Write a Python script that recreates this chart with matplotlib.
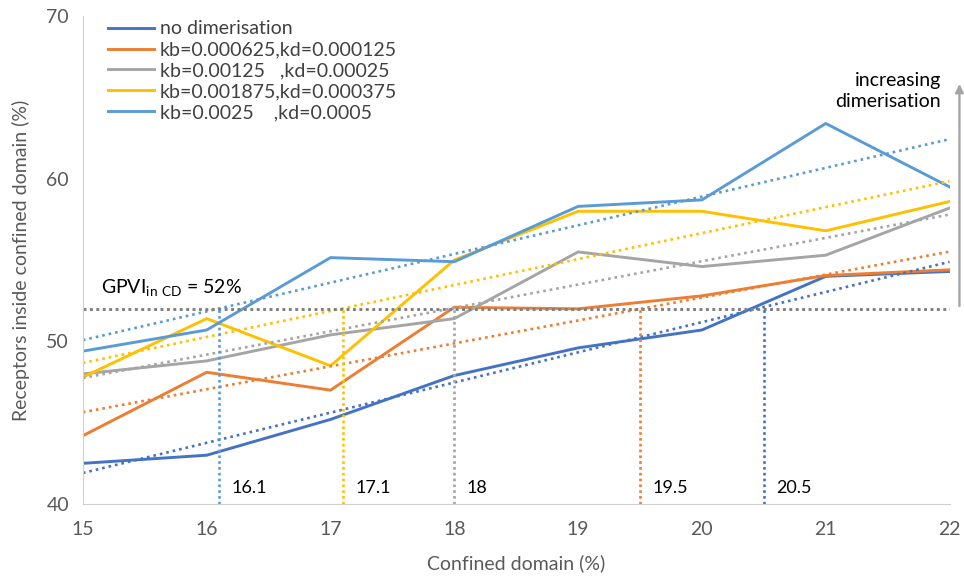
import matplotlib.pyplot as plt
import numpy as np

plt.rcParams["font.family"] = ["Lato", "DejaVu Sans"]
plt.rcParams["mathtext.default"] = "regular"
plt.rcParams["font.size"] = 12

x = np.array([15, 16, 17, 18, 19, 20, 21, 22])

no_dim = [42.5, 43.0, 45.2, 47.9, 49.6, 50.7, 54.0, 54.3]
kb1 = [44.2, 48.1, 47.0, 52.1, 52.0, 52.8, 54.05, 54.4]
kb2 = [48.0, 48.8, 50.4, 51.4, 55.5, 54.6, 55.3, 58.2]
kb3 = [47.8, 51.4, 48.5, 55.0, 58.0, 58.0, 56.8, 58.6]
kb4 = [49.4, 50.7, 55.15, 54.9, 58.3, 58.7, 63.4, 59.5]

labels = ["no dimerisation",
          "kb=0.000625,kd=0.000125",
          "kb=0.00125   ,kd=0.00025",
          "kb=0.001875,kd=0.000375",
          "kb=0.0025    ,kd=0.0005"]
colors = ["#4472C4", "#ED7D31", "#A5A5A5", "#FFC000", "#5B9BD5"]

# where each trend line crosses 52 %
cross_x = [16.1, 17.1, 18, 19.5, 20.5]
cross_colors = ["#5B9BD5", "#FFC000", "#A5A5A5", "#ED7D31", "#4472C4"]
gpvi = 52

fig = plt.figure(figsize=(9.64, 5.76), dpi=100)
ax = fig.add_axes([0.086, 0.125, 0.899, 0.847])

series = [no_dim, kb1, kb2, kb3, kb4]
for y, lab, c in zip(series, labels, colors):
    ax.plot(x, y, color=c, lw=2.1, label=lab)
for y, c in zip(series, colors):
    m, b = np.polyfit(x, y, 1)
    ax.plot(x, m * x + b, color=c, lw=1.9, ls=(0, (1, 1.5)))

ax.plot([15, 22], [gpvi, gpvi], color="#7F7F7F", lw=2.1, ls=(0, (1, 1.2)))
for xc, c in zip(cross_x, cross_colors):
    ax.plot([xc, xc], [40, gpvi], color=c, lw=1.9, ls=(0, (1, 1.2)))
    ax.text(xc + 0.1, 41.0, f"{xc:g}", fontsize=13, va="center", color="black")

ax.text(15.15, 53.3, r"GPVI$_{in\ CD}$ = 52%", fontsize=14, va="center")

ax.annotate("", xy=(22.08, 66.0), xytext=(22.08, 52), xycoords="data",
            annotation_clip=False,
            arrowprops=dict(arrowstyle="-|>", color="#A5A5A5", lw=1.7))
ax.text(21.93, 65.4, "increasing\ndimerisation", ha="right", va="center",
        fontsize=14, linespacing=1.3)

ax.set_xlim(15, 22)
ax.set_ylim(40, 70)
ax.set_xticks(range(15, 23))
ax.set_yticks([40, 50, 60, 70])
ax.tick_params(length=0, labelsize=14, labelcolor="#595959")
ax.tick_params(axis="x", pad=12)
ax.tick_params(axis="y", pad=10)
for s in ["top", "right"]:
    ax.spines[s].set_visible(False)
ax.spines["left"].set_color("#D0D0D0")
ax.spines["bottom"].set_color("#D0D0D0")

ax.set_xlabel("Confined domain (%)", fontsize=14, color="#595959", labelpad=12)
ax.set_ylabel("Receptors inside confined domain (%)", fontsize=14,
              color="#595959", labelpad=12)

ax.legend(loc="upper left", bbox_to_anchor=(0.015, 1.015), frameon=False,
          fontsize=14, handlelength=2.4, labelspacing=0.2, borderaxespad=0.2,
          handletextpad=0.3, labelcolor="#404040")

fig.savefig("out.png", dpi=100)
